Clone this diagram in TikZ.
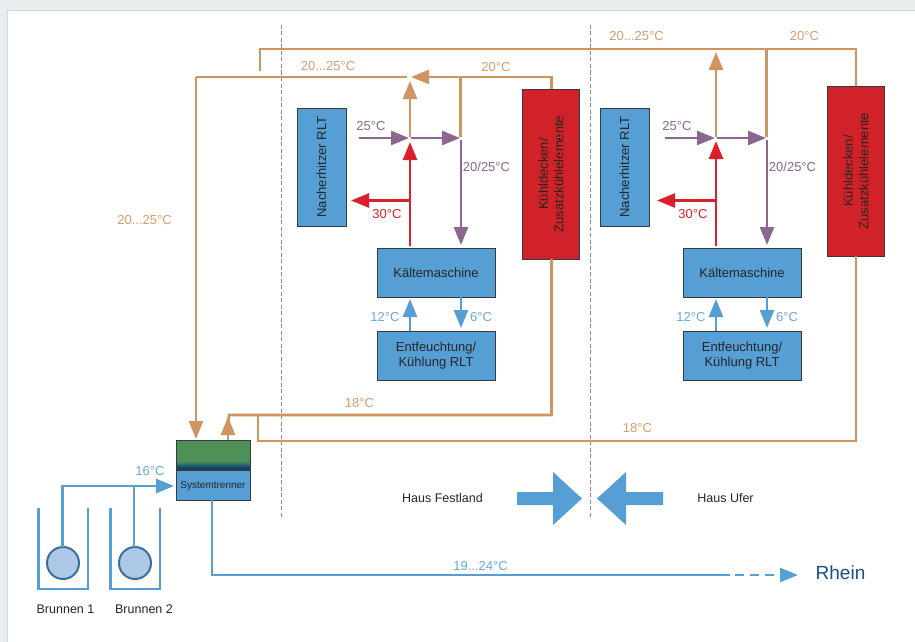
\documentclass[tikz,border=0pt]{standalone}
\usepackage{fontspec}
\setmainfont{Liberation Sans}
\usetikzlibrary{arrows.meta,calc}
\definecolor{orangeL}{HTML}{CE9560}
\definecolor{orangeT}{HTML}{D89C6C}
\definecolor{purpleL}{HTML}{8D668F}
\definecolor{redL}{HTML}{D9202C}
\definecolor{redB}{HTML}{D12229}
\definecolor{blueB}{HTML}{559FD4}
\definecolor{blueT}{HTML}{68ABDD}
\definecolor{greenB}{HTML}{4F9058}
\definecolor{edgeB}{HTML}{333B40}
\definecolor{wellF}{HTML}{AEC9E8}
\definecolor{wellE}{HTML}{3C6F98}
\definecolor{rheinT}{HTML}{1F4E80}
\definecolor{frameF}{HTML}{E9EDED}
\definecolor{frameL}{HTML}{C4DCF0}
\tikzset{
  x=1pt,y=-1pt,
  pipe/.style={line width=2.6pt,line cap=butt,line join=miter},
  tip/.style={-{Triangle[length=18pt,width=14pt]}},
  oline/.style={pipe,draw=orangeL},
  pline/.style={pipe,draw=purpleL},
  rline/.style={pipe,draw=redL},
  bline/.style={pipe,draw=blueB},
  box/.style={draw=edgeB,line width=1pt,fill=blueB,inner sep=0pt,outer sep=0pt,text=black!85,font=\fontsize{13}{15}\selectfont},
  redbox/.style={box,fill=redB},
  vtext/.style={rotate=90,align=center,inner sep=0pt,text=black!85,font=\fontsize{13}{15.5}\selectfont},
  lab/.style={inner sep=0pt,font=\fontsize{13}{15}\selectfont},
  labo/.style={lab,text=orangeT},
  labp/.style={lab,text=purpleL},
  labr/.style={lab,text=redL},
  labb/.style={lab,text=blueT},
  labk/.style={lab,text=black!85,font=\fontsize{12.5}{15}\selectfont},
  sep/.style={draw=black!45,line width=0.8pt,dash pattern=on 4pt off 2.5pt},
  well/.style={circle,draw=wellE,line width=2pt,fill=wellF,minimum size=32pt,inner sep=0pt,outer sep=0pt},
  wallline/.style={draw=blueB,line width=2.2pt,line join=miter},
  block/.style={fill=blueB,draw=none},
}
\begin{document}
\begin{tikzpicture}
\useasboundingbox (0,0) rectangle (915,642);
\fill[white] (0,0) rectangle (915,642);
% page frame
\fill[frameF] (0,0) rectangle (915,10);
\fill[frameF] (0,0) rectangle (7,642);
\draw[frameL,line width=1pt] (915,10.5) -- (7,10.5) -- (7,642);
% separators
\coordinate (sa1) at (281.5,25); \coordinate (sa2) at (281.5,517);
\coordinate (sb1) at (590,25); \coordinate (sb2) at (590,517);
\draw[sep] (sa1) -- (sa2);
\draw[sep] (sb1) -- (sb2);

% boxes left house
\node[box,minimum width=49pt,minimum height=118pt] (nachL) at (321.5,167) {};
\node[vtext] (nachLt) at (nachL) {Nacherhitzer RLT};
\node[box,minimum width=118pt,minimum height=49pt] (kaelL) at (436,272.5) {Kältemaschine};
\node[box,minimum width=118pt,minimum height=49pt,align=center] (entL) at (436,355.5) {Entfeuchtung/\\Kühlung RLT};
\node[redbox,minimum width=57pt,minimum height=170pt] (kuehlL) at (551,174) {};
\node[vtext] (kuehlLt) at (kuehlL) {Kühldecken/\\Zusatzkühlelemente};
% boxes right house
\node[box,minimum width=49pt,minimum height=118pt] (nachR) at (624.5,167) {};
\node[vtext] (nachRt) at (nachR) {Nacherhitzer RLT};
\node[box,minimum width=118pt,minimum height=49pt] (kaelR) at (742,272.5) {Kältemaschine};
\node[box,minimum width=118pt,minimum height=49pt,align=center] (entR) at (742,355.5) {Entfeuchtung/\\Kühlung RLT};
\node[redbox,minimum width=57pt,minimum height=170pt] (kuehlR) at (856,171) {};
\node[vtext] (kuehlRt) at (kuehlR) {Kühldecken/\\Zusatzkühlelemente};

% Systemtrenner
\node[box,fill=none,draw=none,minimum width=75pt,minimum height=60pt] (sys) at (213,470) {};
\fill[greenB] (176,440) rectangle (250,461);
\shade[top color=greenB,bottom color=blue!35!black!80!cyan] (176,461) rectangle (250,469);
\fill[blueB] (176,470) rectangle (250,500);
\draw[edgeB,line width=1pt] (176,440) rectangle (250,500);
\draw[edgeB,line width=1.3pt] (176,470) -- (250,470);
\node[inner sep=0pt,text=black!85,font=\fontsize{10}{12}\selectfont] (sysT) at (213,486) {Systemtrenner};

% junction coordinates left
\coordinate (topW) at (260,49);
\coordinate (topWb) at (260,71);
\coordinate (topE) at (856,49);
\coordinate (midW) at (196,77);
\coordinate (midJ) at (410.5,77);
\coordinate (midB) at (460.5,77);
\coordinate (midC) at (551.5,77);
\coordinate (jA) at (410,138);
\coordinate (jB) at (460.5,138);
\coordinate (rLstart) at (410,246);
\coordinate (rLbranch) at (410,200.5);
\coordinate (nachLtip) at (351,200.5);
\coordinate (p25L) at (359,138);

% orange left house
\draw[oline] (topWb) -- (topW) -- (topE) -- (kuehlR.north);
\draw[oline] (kuehlL.north -| midC) -- (midC) -- (461,77);
\draw[oline,tip] (midC) -- (411,77);
\draw[oline] (midB) -- ($(jB)+(0,-1)$);
\draw[oline] (407,77) -- (midW);
\draw[oline,tip] (midW) -- (196,439);
\draw[oline,tip] ($(jA)+(0,-1)$) -- (410,81);

% purple left
\draw[pline,tip] (p25L) -- ($(jA)+(-1,0)$);
\draw[pline,tip] ($(jA)+(1,0)$) -- ($(jB)+(-0.5,0)$);
\draw[pline,tip] (461,140) -- (461,245);
% red left
\draw[rline,tip] (rLstart) -- (410,142);
\draw[rline,tip] (rLbranch) -- (nachLtip);

% junction coordinates right
\coordinate (jC) at (716,138);
\coordinate (jD) at (766.5,138);
\coordinate (upTip) at (716,52);
\coordinate (brT) at (766.5,49);
\coordinate (p25R) at (665,138);
\coordinate (rRstart) at (716,246);
\coordinate (rRbranch) at (716,200.5);
\coordinate (nachRtip) at (657,200.5);

\draw[oline] (brT) -- ($(jD)+(0,-1)$);
\draw[oline,tip] ($(jC)+(0,-1)$) -- (upTip);
\draw[pline,tip] (p25R) -- ($(jC)+(-1,0)$);
\draw[pline,tip] ($(jC)+(1,0)$) -- ($(jD)+(-0.5,0)$);
\draw[pline,tip] (767,140) -- (767,245);
\draw[rline,tip] (rRstart) -- (716,141);
\draw[rline,tip] (rRbranch) -- (nachRtip);

% chiller <-> dehumidifier
\draw[pipe,draw=blueB,tip] (entL.north -| 410,0) -- (410,299);
\draw[pipe,draw=blueB,tip] (kaelL.south -| 461,0) -- (461,328);
\draw[pipe,draw=blueB,tip] (entR.north -| 716,0) -- (716,299);
\draw[pipe,draw=blueB,tip] (kaelR.south -| 767,0) -- (767,328);

% return lines
\coordinate (retL) at (229,415);
\coordinate (retLc) at (551.5,415);
\coordinate (retRa) at (258,415);
\coordinate (retRb) at (258,441);
\coordinate (retRc) at (856,441);
\draw[oline] (kuehlL.south -| retLc) -- (retLc) -- (retL) -- (228,425);
\draw[oline,tip] (228,440) -- (228,417);
\draw[oline] (kuehlR.south) -- (retRc) -- (retRb) -- (retRa);

% wells
\draw[wallline] (38.5,508) -- (38.5,589) -- (88,589) -- (88,508);
\draw[wallline] (110.5,508) -- (110.5,589) -- (160,589) -- (160,508);
\node[well] (w1) at (63,563) {};
\node[well] (w2) at (135,563) {};
\coordinate (wc1) at (62.5,486);
\coordinate (wc2) at (134,486);
\draw[bline] (w1.north -| wc1) -- (wc1) -- (160,486);
\draw[bline] (w2.north -| wc2) -- (wc2);
\draw[bline,tip] (156,486) -- (174,486);

% outflow
\coordinate (oc) at (212,575);
\coordinate (od1) at (730,575);
\coordinate (od2) at (780,575);
\coordinate (otip) at (798,575);
\draw[bline] (sys.south -| oc) -- (oc) -- (od1);
\draw[bline,dash pattern=on 9pt off 6pt] (735,575) -- (od2);
\draw[bline,tip] (od2) -- (otip);

% block arrows
\fill[block] (517,492) -- (553,492) -- (553,472) -- (582,498.5) -- (553,525) -- (553,505) -- (517,505) -- cycle;
\fill[block] (663,492) -- (626,492) -- (626,472) -- (597,498.5) -- (626,525) -- (626,505) -- (663,505) -- cycle;

% labels
\node[labo] (l1) at (328,66.5) {20...25°C};
\node[labo] (l2) at (496,67) {20°C};
\node[labo] (l3) at (636.5,36.5) {20...25°C};
\node[labo] (l4) at (804.5,36.5) {20°C};
\node[labo] (l5) at (144.5,220) {20...25°C};
\node[labo] (l6) at (359.5,403) {18°C};
\node[labo] (l7) at (637.5,428) {18°C};
\node[labp] (l8) at (371,126) {25°C};
\node[labp] (l9) at (677,126) {25°C};
\node[labp] (l10) at (486.5,166.5) {20/25°C};
\node[labp] (l11) at (792.5,166.5) {20/25°C};
\node[labr] (l12) at (387,214.5) {30°C};
\node[labr] (l13) at (693,214.5) {30°C};
\node[labb] (l14) at (385,317.5) {12°C};
\node[labb] (l15) at (481,317.5) {6°C};
\node[labb] (l16) at (691,317.5) {12°C};
\node[labb] (l17) at (787,317.5) {6°C};
\node[labb] (l18) at (150,471) {16°C};
\node[labb] (l19) at (480.5,566) {19...24°C};
\node[labk] (l20) at (442.5,498) {Haus Festland};
\node[labk] (l21) at (725.5,498) {Haus Ufer};
\node[labk] (l22) at (65.5,609) {Brunnen 1};
\node[labk] (l23) at (144,609) {Brunnen 2};
\node[inner sep=0pt,text=rheinT,font=\fontsize{19}{22}\selectfont] (l24) at (840.5,573) {Rhein};
\end{tikzpicture}
\end{document}
